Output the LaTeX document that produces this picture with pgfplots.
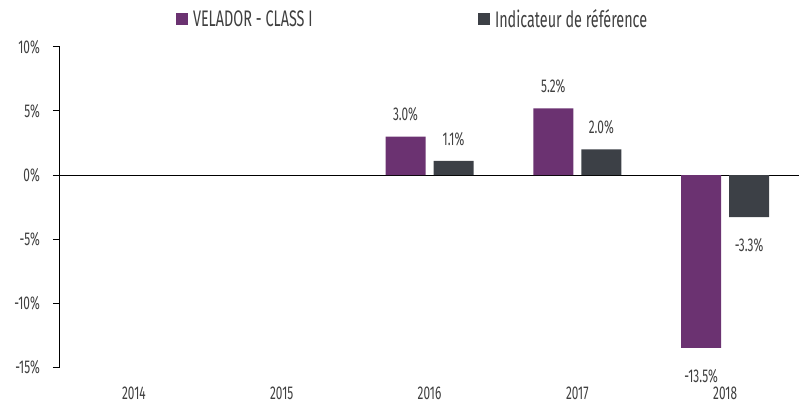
\documentclass[border=0pt]{standalone}
\usepackage{fontspec}
\setmainfont{Fira Sans}[FakeStretch=0.64]
\usepackage{pgfplots}
\pgfplotsset{compat=1.18}
\definecolor{velpurple}{HTML}{6B3271}
\definecolor{refgrey}{HTML}{3C4046}
\definecolor{textgray}{HTML}{3F3F3F}
\begin{document}
\begin{tikzpicture}
\begin{axis}[
  scale only axis, width=739pt, height=320pt,
  ymin=-15, ymax=10, xmin=-0.5, xmax=4.5,
  ytick={-15,-10,-5,0,5,10},
  xtick={0,1,2,3,4}, xticklabels={2014,2015,2016,2017,2018},
  axis lines*=left,
  y axis line style={black, line width=1pt},
  x axis line style={draw=none},
  ytick style={black, line width=1pt},
  xtick style={draw=none},
  tick align=outside, major tick length=7pt,
  ybar=8pt, bar width=40pt,
  /pgf/number format/assume math mode=true,
  yticklabel={\pgfmathprintnumber{\tick}\%},
  tick label style={font=\fontsize{18.5}{21}\selectfont, text=textgray},
  yticklabel style={inner sep=0pt, xshift=-13pt},
  xticklabel style={inner sep=0pt, yshift=-13pt},
  extra y ticks={0}, extra y tick labels={},
  extra y tick style={grid=major, major grid style={black, line width=1pt}},
  nodes near coords={\pgfmathprintnumber[fixed, fixed zerofill, precision=1]{\pgfplotspointmeta}\%},
  visualization depends on={rawy \as \rawy},
  every node near coord/.append style={font=\fontsize{18.5}{21}\selectfont, text=textgray, inner sep=0pt, yshift={(\rawy<0)*(-21)+(\rawy>=0)*15}},
  legend columns=2,
  legend style={draw=none, fill=none, inner sep=0pt, outer sep=0pt, at={(0.157,1.0875)}, anchor=west,
    font=\fontsize{22.5}{25}\selectfont, text=textgray,
    nodes={inner sep=0pt},
    /tikz/every even column/.append style={column sep=5pt},
    /tikz/every odd column/.append style={column sep=5pt}},
  clip=false,
]
\addplot[fill=velpurple, draw=none, legend image code/.code={\fill[velpurple] (0pt,-6pt) rectangle (12pt,6pt);}]
  coordinates {(2,3.0) (3,5.2) (4,-13.5)};
\addlegendentry{\makebox[280pt][l]{VELADOR - CLASS I}}
\addplot[fill=refgrey, draw=none, legend image code/.code={\fill[refgrey] (0pt,-6pt) rectangle (12pt,6pt);}]
  coordinates {(2,1.1) (3,2.0) (4,-3.3)};
\addlegendentry{Indicateur de référence}
\end{axis}
\pgfresetboundingbox
\path[use as bounding box] (-60pt,-38pt) rectangle (741pt,367pt);
\end{tikzpicture}
\end{document}
